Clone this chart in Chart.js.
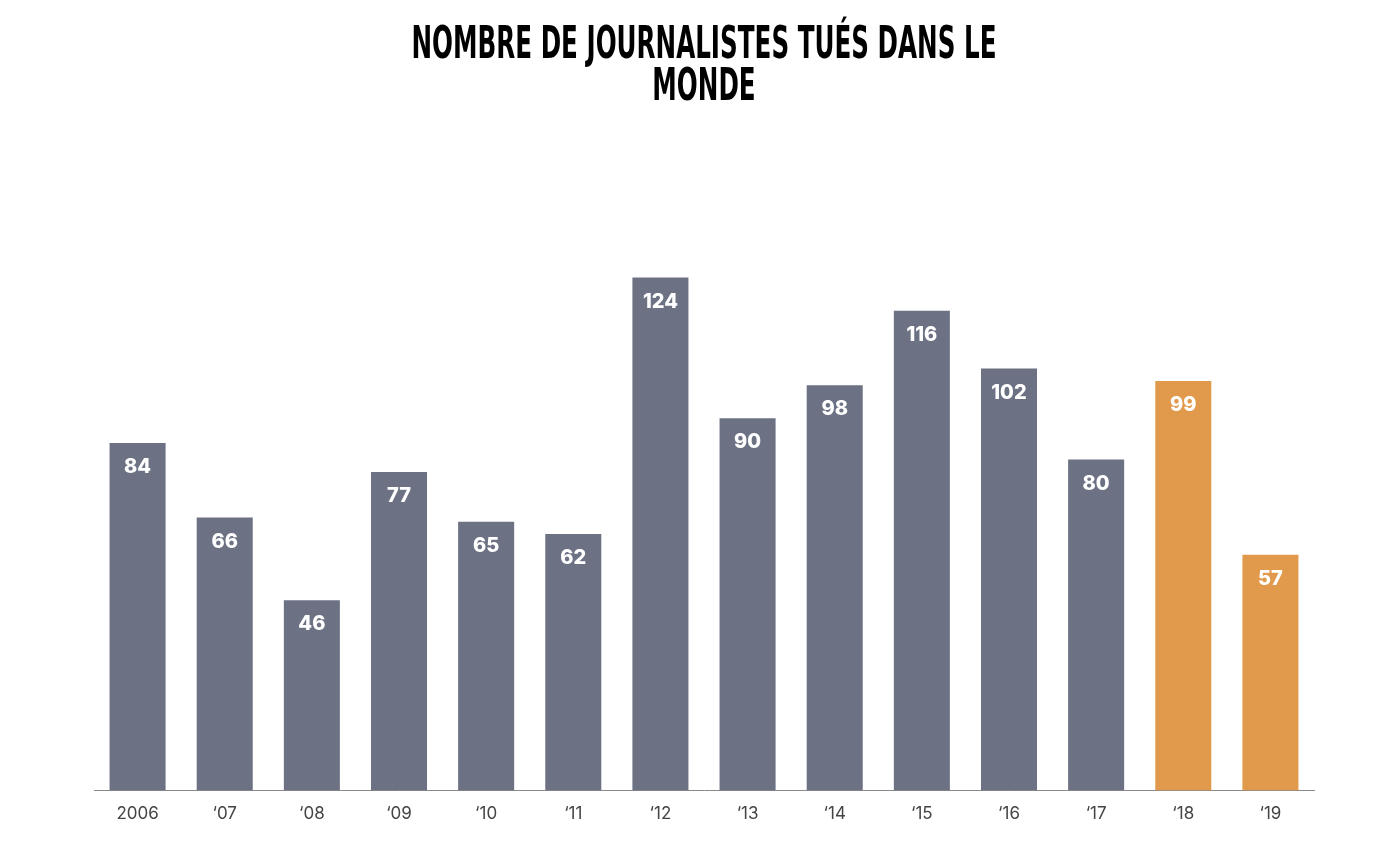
<!DOCTYPE html>
<html>
<head>
<meta charset="utf-8">
<script src="https://cdn.jsdelivr.net/npm/chart.js@4/dist/chart.umd.min.js"></script>
<style>
  html, body { margin: 0; padding: 0; background: #ffffff; }
  #wrap { width: 1386px; height: 860px; position: relative; }
</style>
</head>
<body>
<div id="wrap"><canvas id="c"></canvas></div>
<script>
const titleLines = ["NOMBRE DE JOURNALISTES TUÉS DANS LE", "MONDE"];
const categories = ["2006", "‘07", "‘08", "‘09", "‘10", "‘11", "‘12", "‘13", "‘14", "‘15", "‘16", "‘17", "‘18", "‘19"];
const killed = [84, 66, 46, 77, 65, 62, 124, 90, 98, 116, 102, 80, 99, 57];
const highlighted = ["‘18", "‘19"];

const GRAY = "#6c7184";
const ORANGE = "#e19a4b";

const titlePlugin = {
  id: "condensedTitle",
  afterDraw(chart) {
    const ctx = chart.ctx;
    const area = chart.chartArea;
    const cx = (area.left + area.right) / 2;
    ctx.save();
    ctx.font = "bold 44px 'Liberation Sans Narrow', 'DejaVu Sans Condensed', 'Liberation Sans', sans-serif";
    ctx.fillStyle = "#000000";
    ctx.textAlign = "center";
    ctx.textBaseline = "alphabetic";
    const w = ctx.measureText(titleLines[0]).width;
    const sx = 585 / w;
    titleLines.forEach((line, i) => {
      ctx.save();
      ctx.translate(cx, 58 + i * 42);
      ctx.scale(sx, 1);
      ctx.fillText(line, 0, 0);
      ctx.restore();
    });
    ctx.restore();
  }
};

const labelPlugin = {
  id: "barLabels",
  afterDatasetsDraw(chart) {
    const ctx = chart.ctx;
    const meta = chart.getDatasetMeta(0);
    ctx.save();
    ctx.font = "800 20px Inter, 'Open Sans', sans-serif";
    ctx.fillStyle = "#ffffff";
    ctx.textAlign = "center";
    ctx.textBaseline = "middle";
    meta.data.forEach((bar, i) => {
      ctx.fillText(String(killed[i]), bar.x, bar.y + 24);
    });
    ctx.restore();
  }
};

new Chart(document.getElementById("c"), {
  type: "bar",
  data: {
    labels: categories,
    datasets: [{
      data: killed,
      backgroundColor: categories.map(c => highlighted.includes(c) ? ORANGE : GRAY),
      borderWidth: 0,
      categoryPercentage: 1,
      barPercentage: 0.643
    }]
  },
  options: {
    responsive: true,
    maintainAspectRatio: false,
    animation: false,
    layout: { padding: { top: 170, left: 94, right: 72, bottom: 23 } },
    plugins: {
      legend: { display: false },
      tooltip: { enabled: false },
      title: { display: false }
    },
    scales: {
      x: {
        grid: { display: false, drawTicks: false },
        border: { display: true, color: "#8a8a8a", width: 1 },
        ticks: { color: "#444444", font: { family: "Inter, 'Open Sans', sans-serif", size: 17 }, padding: 13, maxRotation: 0, autoSkip: false }
      },
      y: {
        display: false,
        min: 0,
        max: 150
      }
    }
  },
  plugins: [titlePlugin, labelPlugin]
});
</script>
</body>
</html>
